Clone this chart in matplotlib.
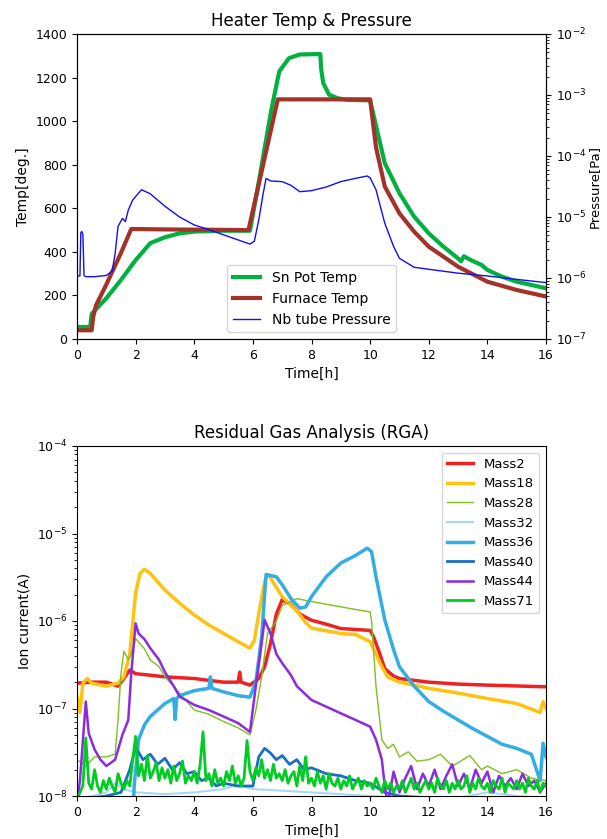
import numpy as np
import matplotlib
matplotlib.use("Agg")
import matplotlib.pyplot as plt

plt.rcParams['font.family'] = ['DejaVu Sans']
plt.rcParams['font.size'] = 9
plt.rcParams['axes.labelsize'] = 10
plt.rcParams['axes.titlesize'] = 12

# ---------------- Top chart data ----------------
t_sn = [0, 0.45, 0.5, 0.6, 1.0, 1.5, 2.0, 2.5, 3.0, 3.5, 4.0, 5.0, 5.9, 6.2, 6.63, 6.9, 7.23, 7.6, 8.3, 8.33, 8.4, 8.6, 8.9, 9.2, 10.0,
        10.2, 10.5, 11.0, 11.5, 12.0, 12.5, 13.0, 13.1, 13.2, 13.3, 13.5, 13.8, 14.0, 14.5, 15.0, 15.5, 16.0]
sn_temp = [55, 55, 115, 130, 187, 271, 362, 440, 467, 485, 493, 497, 497, 720, 1052, 1228, 1289, 1306, 1308, 1240, 1175, 1121, 1105, 1098, 1095,
           980, 807, 669, 562, 485, 424, 370, 357, 380, 372, 358, 340, 317, 286, 263, 248, 233]

t_fur = [0, 0.5, 0.55, 0.65, 1.0, 1.5, 1.85, 3.0, 5.85, 6.85, 10.0, 10.2, 10.5, 11.0, 11.5, 12.0, 12.5, 13.0, 14.0, 15.0, 16.0]
fur_temp = [40, 40, 100, 155, 250, 395, 505, 503, 500, 1100, 1100, 880, 700, 577, 493, 424, 378, 332, 263, 225, 195]

t_p = [0, 0.1, 0.13, 0.16, 0.2, 0.24, 0.3, 0.6, 1.0, 1.2, 1.3, 1.4, 1.55, 1.65, 1.75, 1.9, 2.2, 2.5, 3.0, 3.5, 4.0, 4.5, 5.0, 5.5, 5.9,
       6.05, 6.2, 6.35, 6.45, 6.6, 7.0, 7.3, 7.6, 8.0, 8.5, 9.0, 9.5, 9.9, 10.0, 10.2, 10.5, 10.8, 11.0, 11.5, 12.0, 13.0, 14.0, 15.0, 16.0]
nb_press = [1.08e-6, 1.08e-6, 5.5e-6, 5.8e-6, 5.2e-6, 1.1e-6, 1.05e-6, 1.05e-6, 1.1e-6, 1.3e-6, 2.5e-6, 7e-6, 9.5e-6, 8.4e-6, 1.3e-5, 1.9e-5,
            2.8e-5, 2.4e-5, 1.5e-5, 1.0e-5, 7.4e-6, 6.2e-6, 5.1e-6, 4.2e-6, 3.6e-6,
            4.0e-6, 8.9e-6, 2.4e-5, 4.3e-5, 3.9e-5, 3.8e-5, 3.3e-5, 2.6e-5, 2.7e-5, 3.1e-5, 3.8e-5, 4.3e-5, 4.7e-5, 4.4e-5, 2.8e-5,
            7.9e-6, 3.3e-6, 2.1e-6, 1.5e-6, 1.39e-6, 1.2e-6, 1.08e-6, 9.5e-7, 8.4e-7]

# ---------------- Bottom chart data ----------------
t_m2 = [0, 0.5, 1.0, 1.4, 1.6, 1.8, 2.0, 2.5, 3.0, 4.0, 5.0, 5.5, 5.55, 5.6, 5.9, 6.2, 6.4, 6.6, 6.8, 7.0, 7.3, 7.6, 8.0, 8.5, 9.0, 9.5, 10.0,
        10.1, 10.3, 10.5, 10.8, 11.0, 12.0, 13.0, 14.0, 16.0]
m2 = [1.95e-7, 2.0e-7, 2.0e-7, 1.8e-7, 2.2e-7, 2.75e-7, 2.5e-7, 2.4e-7, 2.3e-7, 2.2e-7, 2.0e-7, 2.0e-7, 2.6e-7, 2.0e-7, 1.85e-7,
      2.2e-7, 3.0e-7, 5.5e-7, 1.2e-6, 1.75e-6, 1.55e-6, 1.2e-6, 1.02e-6, 9.2e-7, 8.2e-7, 8.0e-7, 7.8e-7, 6.8e-7, 4.5e-7, 2.85e-7,
      2.35e-7, 2.2e-7, 2.0e-7, 1.9e-7, 1.85e-7, 1.77e-7]

t_m18 = [0, 0.1, 0.2, 0.35, 0.5, 1.0, 1.4, 1.6, 1.8, 2.0, 2.15, 2.3, 2.5, 3.0, 3.5, 4.0, 4.5, 5.0, 5.5, 5.9, 6.05, 6.2, 6.4, 6.5, 6.6, 7.0,
         7.5, 7.8, 8.0, 9.0, 9.5, 10.0, 10.2, 10.4, 10.6, 11.0, 12.0, 13.0, 14.0, 15.0, 15.8, 15.9, 16.0]
m18 = [1.36e-7, 9e-8, 1.95e-7, 2.2e-7, 1.95e-7, 1.8e-7, 1.95e-7, 2.3e-7, 4.2e-7, 2.1e-6, 3.5e-6, 3.9e-6, 3.5e-6, 2.25e-6, 1.6e-6, 1.17e-6,
       9.0e-7, 7.2e-7, 5.8e-7, 4.9e-7, 6.0e-7, 1.2e-6, 2.8e-6, 3.4e-6, 3.1e-6, 1.9e-6, 1.3e-6, 9.6e-7, 8.3e-7, 7.2e-7, 7.0e-7, 5.8e-7,
       4.2e-7, 3.0e-7, 2.3e-7, 2.0e-7, 1.7e-7, 1.5e-7, 1.3e-7, 1.14e-7, 9.0e-8, 1.2e-7, 1.0e-7]

t_m28 = [0, 0.3, 0.6, 1.0, 1.3, 1.4, 1.5, 1.6, 1.75, 1.85, 2.0, 2.3, 2.5, 2.8, 3.0, 3.5, 4.0, 4.5, 5.0, 5.5, 5.9, 6.1, 6.3, 6.5, 6.8, 7.0,
         7.5, 8.0, 9.0, 10.0, 10.05, 10.2, 10.4, 10.6, 10.8, 11.0, 11.3, 11.6, 12.0, 12.4, 12.8, 13.0, 13.4, 13.8, 14.0, 14.5, 15.0, 15.5, 16.0]
m28 = [2.6e-8, 2.2e-8, 2.8e-8, 2.8e-8, 3.0e-8, 7.4e-8, 2.5e-7, 4.5e-7, 3.6e-7, 4.2e-7, 6.3e-7, 4.8e-7, 3.6e-7, 3.0e-7, 2.3e-7, 1.5e-7,
       9.6e-8, 8.6e-8, 7.1e-8, 6.0e-8, 5.0e-8, 9.5e-8, 2.3e-7, 7.2e-7, 1.0e-6, 1.5e-6, 1.8e-6, 1.67e-6, 1.45e-6, 1.27e-6, 1.0e-6, 1.8e-7,
       4.4e-8, 3.5e-8, 3.9e-8, 2.8e-8, 3.2e-8, 2.5e-8, 2.6e-8, 3.0e-8, 2.2e-8, 2.4e-8, 2.9e-8, 2.0e-8, 2.2e-8, 1.8e-8, 2.0e-8, 1.6e-8, 1.5e-8]

t_m32 = [0, 1.0, 1.3, 1.6, 2.0, 3.0, 4.0, 5.0, 5.5, 6.0, 7.0, 8.0, 9.0, 10.0, 11.0, 12.0, 13.0, 14.0, 15.0, 16.0]
m32 = [9e-9, 1.1e-8, 1.4e-8, 1.2e-8, 1.1e-8, 1.05e-8, 1.1e-8, 1.2e-8, 1.35e-8, 1.2e-8, 1.15e-8, 1.1e-8, 1.05e-8, 1.0e-8, 9.5e-9,
       9.5e-9, 9.5e-9, 1.1e-8, 1.0e-8, 9.5e-9]

t_m36 = [0, 1.9, 1.95, 2.1, 2.3, 2.5, 3.0, 3.3, 3.35, 3.4, 3.5, 4.0, 4.5, 4.55, 4.6, 5.0, 5.5, 5.9, 6.1, 6.3, 6.45, 6.8, 7.0, 7.3, 7.6,
         7.8, 8.0, 8.5, 9.0, 9.5, 9.9, 10.05, 10.2, 10.5, 10.8, 11.0, 11.5, 12.0, 12.5, 13.0, 13.5, 14.0, 14.5, 15.0, 15.5, 15.8, 15.9, 16.0]
m36 = [5e-9, 5e-9, 1.3e-8, 4.4e-8, 6.5e-8, 8.1e-8, 1.14e-7, 1.3e-7, 7.5e-8, 1.3e-7, 1.4e-7, 1.6e-7, 1.7e-7, 2.3e-7, 1.7e-7, 1.55e-7,
       1.4e-7, 1.35e-7, 2.0e-7, 6.6e-7, 3.4e-6, 3.2e-6, 2.6e-6, 1.8e-6, 1.4e-6, 1.45e-6, 1.9e-6, 3.2e-6, 4.6e-6, 5.6e-6, 6.8e-6, 6.2e-6,
       3.2e-6, 1.03e-6, 4.7e-7, 3.0e-7, 1.8e-7, 1.2e-7, 9.3e-8, 7.4e-8, 5.9e-8, 4.8e-8, 3.9e-8, 3.5e-8, 3.0e-8, 1.5e-8, 4.0e-8, 2.8e-8]

t_m40 = [0, 0.5, 1.0, 1.5, 1.8, 2.0, 2.25, 2.5, 2.75, 3.0, 3.25, 3.5, 3.75, 4.0, 4.25, 4.5, 4.75, 5.0, 5.5, 6.0, 6.2, 6.4, 6.6, 6.8, 7.0,
         7.25, 7.5, 7.75, 8.0, 8.5, 9.0, 9.5, 10.0, 10.5, 11.0, 12.0, 13.0, 14.0, 15.0, 16.0]
m40 = [9e-9, 9.5e-9, 1.0e-8, 1.1e-8, 2.0e-8, 3.6e-8, 2.6e-8, 3.0e-8, 2.3e-8, 2.7e-8, 2.0e-8, 2.4e-8, 1.8e-8, 1.9e-8, 1.5e-8, 1.6e-8,
       1.3e-8, 1.4e-8, 1.3e-8, 1.3e-8, 2.8e-8, 3.5e-8, 3.1e-8, 2.6e-8, 2.9e-8, 2.3e-8, 2.6e-8, 2.0e-8, 2.1e-8, 1.8e-8, 1.7e-8, 1.5e-8,
       1.4e-8, 1.1e-8, 1.0e-8, 9.5e-9, 9.5e-9, 9e-9, 9e-9, 9e-9]

t_m44 = [0, 0.1, 0.3, 0.4, 0.6, 0.8, 1.0, 1.3, 1.55, 1.75, 1.85, 2.0, 2.1, 2.3, 2.5, 2.8, 3.0, 3.3, 3.5, 4.0, 4.5, 5.0, 5.5, 5.9, 6.1,
         6.25, 6.4, 6.6, 6.8, 7.0, 7.3, 7.5, 8.0, 8.5, 9.0, 9.5, 10.0, 10.2, 10.4, 10.5, 10.6, 10.8, 11.0, 11.2, 11.4, 11.6, 11.8, 12.0,
         12.2, 12.4, 12.6, 12.8, 13.0, 13.2, 13.4, 13.6, 13.8, 14.0, 14.2, 14.4, 14.6, 14.8, 15.0, 15.2, 15.4, 15.6, 15.8, 16.0]
m44 = [8e-9, 1.5e-8, 1.2e-7, 5.2e-8, 3.4e-8, 2.6e-8, 2.2e-8, 2.6e-8, 5.0e-8, 7.4e-8, 2.5e-7, 9.4e-7, 7.2e-7, 6.2e-7, 4.9e-7, 3.6e-7,
       2.6e-7, 1.8e-7, 1.37e-7, 1.1e-7, 9.6e-8, 8.1e-8, 6.8e-8, 5.4e-8, 1.8e-7, 4.2e-7, 1.03e-6, 7.2e-7, 4.2e-7, 3.3e-7, 2.4e-7, 1.8e-7,
       1.25e-7, 1.05e-7, 8.8e-8, 7.4e-8, 6.2e-8, 4.4e-8, 2.6e-8, 1.3e-8, 0.8e-8, 1.9e-8, 1.1e-8, 1.6e-8, 2.2e-8, 1.2e-8, 1.8e-8, 1.3e-8,
       2.0e-8, 1.2e-8, 1.7e-8, 2.3e-8, 1.3e-8, 1.8e-8, 1.2e-8, 2.0e-8, 1.4e-8, 1.9e-8, 1.1e-8, 1.7e-8, 1.3e-8, 1.6e-8, 1.2e-8, 1.8e-8,
       1.3e-8, 1.5e-8, 1.1e-8, 1.4e-8]

t_m71 = np.round(np.arange(0, 16.01, 0.1), 2)
m71_e8 = [0.9, 1.1, 1.3, 4.6, 1.4, 1.2, 2.0, 1.3, 1.1, 1.5,
          1.2, 1.6, 1.3, 1.1, 1.8, 1.4, 1.2, 1.5, 1.3, 2.6,
          4.8, 1.7, 2.3, 1.5, 2.9, 1.6, 1.9, 2.4, 1.5, 2.1,
          1.6, 2.0, 1.4, 2.2, 1.5, 1.8, 2.5, 1.4, 1.7, 1.5,
          1.9, 1.4, 2.3, 5.4, 1.5, 1.8, 1.3, 2.0, 1.4, 1.6,
          1.3, 1.9, 1.5, 2.2, 1.4, 1.7, 1.3, 1.6, 4.3, 1.9,
          1.5, 2.1, 1.7, 2.6, 1.6, 2.0, 1.5, 2.3, 1.6, 1.8,
          1.5, 2.0, 1.4, 1.7, 1.9, 1.3, 2.2, 1.5, 2.8, 1.4,
          1.6, 1.3, 1.9, 1.4, 1.7, 1.2, 1.8, 1.4, 1.3, 1.6,
          1.2, 1.5, 1.3, 1.7, 1.2, 1.4, 1.6, 1.2, 1.5, 1.3,
          1.4, 1.2, 1.6, 1.3, 1.1, 1.5, 1.2, 1.4, 1.1, 1.3,
          1.2, 1.5, 1.1, 1.3, 1.6, 1.2, 1.4, 1.1, 1.3, 1.5,
          1.2, 1.4, 1.1, 1.6, 1.3, 1.2, 1.5, 1.1, 1.4, 1.2,
          1.5, 1.2, 1.3, 1.7, 1.1, 1.4, 1.2, 1.6, 1.3, 1.2,
          1.4, 1.1, 1.5, 1.3, 1.2, 1.6, 1.1, 1.4, 1.3, 1.2,
          1.5, 1.2, 1.4, 1.1, 1.6, 1.3, 1.2, 1.5, 1.1, 1.4,
          1.3]
m71 = np.array(m71_e8) * 1e-8

rga_series = [
    ("Mass2", t_m2, m2, "#ee2222", 2.5),
    ("Mass18", t_m18, m18, "#ffc20e", 2.5),
    ("Mass28", t_m28, m28, "#7fbf1f", 1.0),
    ("Mass32", t_m32, m32, "#a8d8f8", 1.5),
    ("Mass36", t_m36, m36, "#33aee3", 2.5),
    ("Mass40", t_m40, m40, "#1a6fc4", 2.0),
    ("Mass44", t_m44, m44, "#8a2be2", 1.8),
    ("Mass71", t_m71, m71, "#00cc22", 2.0),
]

fig = plt.figure(figsize=(6.07, 8.39), dpi=100)

# ---- top axes ----
ax1 = fig.add_axes([77/607, 1-339/839, 469/607, 305/839])
l1, = ax1.plot(t_sn, sn_temp, color="#00b140", lw=3, label="Sn Pot Temp")
l2, = ax1.plot(t_fur, fur_temp, color="#a33228", lw=3, label="Furnace Temp")
ax1.set_xlim(0, 16)
ax1.set_ylim(0, 1400)
ax1.set_xlabel("Time[h]")
ax1.set_ylabel("Temp[deg.]")
ax1.set_title("Heater Temp & Pressure")
ax2 = ax1.twinx()
l3, = ax2.plot(t_p, nb_press, color="#1010ee", lw=1, label="Nb tube Pressure")
ax2.set_yscale("log")
ax2.set_ylim(1e-7, 1e-2)
ax2.set_ylabel("Pressure[Pa]", labelpad=1, fontsize=9.5)
ax1.legend(handles=[l1, l2, l3], loc="lower center", fontsize=10)

# ---- bottom axes ----
ax3 = fig.add_axes([77/607, 1-796/839, 469/607, 350/839])
for name, tt, vv, col, lw in rga_series:
    ax3.plot(tt, vv, color=col, lw=lw, label=name)
ax3.set_yscale("log")
ax3.set_xlim(0, 16)
ax3.set_ylim(1e-8, 1e-4)
ax3.set_xlabel("Time[h]")
ax3.set_ylabel("Ion current(A)")
ax3.set_title("Residual Gas Analysis (RGA)")
ax3.legend(loc="upper right", fontsize=9.5)

fig.savefig("out.png", dpi=100)
